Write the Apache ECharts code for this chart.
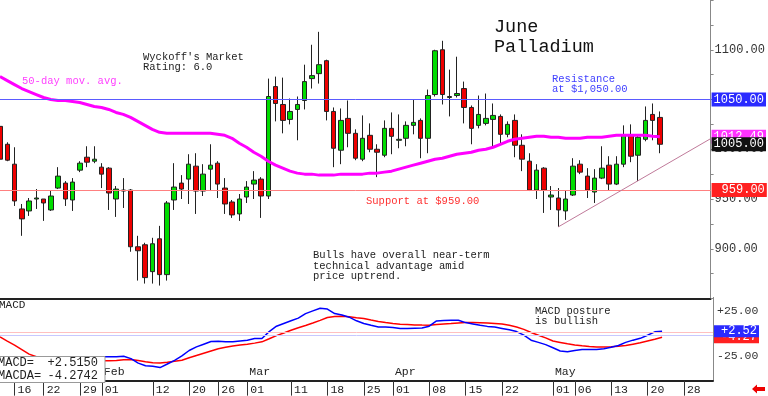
<!DOCTYPE html>
<html><head><meta charset="utf-8">
<script src="https://cdn.jsdelivr.net/npm/echarts@6/dist/echarts.min.js"></script>
<style>html,body{margin:0;padding:0;background:#fff;overflow:hidden}#c{width:768px;height:396px}</style>
</head><body><div id="c"></div>
<script>
// ---- data ----
const dates = ['01-11','01-12','01-16','01-17','01-18','01-19','01-22','01-23','01-24','01-25','01-26','01-29','01-30','01-31',
'02-01','02-02','02-05','02-06','02-07','02-08','02-09','02-12','02-13','02-14','02-15','02-16','02-20','02-21','02-22','02-23','02-26','02-27','02-28','02-29',
'03-01','03-04','03-05','03-06','03-07','03-08','03-11','03-12','03-13','03-14','03-15','03-18','03-19','03-20','03-21','03-22','03-25','03-26','03-27','03-28',
'04-01','04-02','04-03','04-04','04-05','04-08','04-09','04-10','04-11','04-12','04-15','04-16','04-17','04-18','04-19','04-22','04-23','04-24','04-25','04-26','04-29','04-30',
'05-01','05-02','05-03','05-06','05-07','05-08','05-09','05-10','05-13','05-14','05-15','05-16','05-17','05-20','05-21','05-22',
'05-23','05-24','05-28','05-29','05-30','05-31','06-03'];
const opens  = [1023,1005,985,940,938,950,950,939,961,966,949,979,992,988,982,981,950,959,959,902,904,877,910,874,949,966,970,983,958,980,986,961,947,935,952,965,970,953,1063,1045,1030,1040,1049,1071,1076,1089,1038,999,1031,1016,990,1014,1000,994,1021,1009,1011,1024,1029,1011,1055,1100,1052,1054,1061,1042,1024,1026,1030,1033,1015,1029,1004,988,959,981,952,951,938,954,985,973,957,971,984,965,985,1014,994,1010,1035,1032];
const closes = [990,989,948,930,948,951,946,953,973,950,967,986,987,990,975,956,960,958,902,898,871,905,874,946,962,960,985,958,975,984,965,945,934,950,962,969,953,1053,1046,1029,1038,1045,1068,1074,1085,1038,1001,1029,1016,991,1011,1000,997,1021,1013,1010,1024,1027,1011,1054,1099,1055,1053,1056,1042,1021,1035,1031,1034,1015,1025,1004,990,959,979,959,954,939,950,983,977,959,971,981,965,985,1014,993,1012,1029,1029,1005];
const lows   = [988,988,943,913,933,940,928,938,960,943,938,977,982,986,961,939,932,941,897,868,865,865,863,868,939,950,945,935,953,958,951,935,931,928,946,950,931,950,1028,1016,1025,1009,1040,1061,1066,1029,982,985,1002,989,988,997,972,992,995,1001,1003,1015,991,996,1053,1045,1033,1052,1026,1005,1021,1024,1003,1005,1012,992,978,958,950,936,939,922,929,953,975,951,946,970,959,964,982,987,968,1008,1009,996];
const highs  = [1025,1007,1002,945,951,960,950,959,982,968,971,988,1003,1003,986,982,963,971,960,913,906,911,923,948,986,974,995,996,985,1005,988,971,949,955,968,978,972,1071,1073,1072,1051,1053,1085,1105,1118,1090,1042,1041,1049,1020,1034,1026,1005,1029,1037,1035,1028,1050,1031,1060,1100,1109,1080,1093,1068,1044,1054,1056,1046,1035,1028,1035,1015,996,985,982,963,961,959,991,989,981,980,1003,993,993,1024,1025,1014,1043,1046,1038];
const ma50   = [1073,1069,1065,1061,1058,1055,1052,1050,1049,1049,1048,1047,1045,1043,1042,1040,1037,1035,1032,1028,1024,1020,1017,1016,1016,1016,1016,1016,1016,1016,1015,1014,1011,1006,1002,997,993,988,984,981,978,976,975,975,974,974,974,975,975,975,975,976,976,977,978,980,982,984,986,988,990,991,993,995,996,997,999,1000,1002,1005,1008,1010,1011,1012,1013,1013,1012,1012,1011,1011,1011,1012,1012,1012,1013,1014,1014,1014,1014,1014,1013,1012.49];
const macd   = [-26,-27,-28,-29,-29,-28,-27,-27,-26,-26,-26,-26,-26,-26,-26,-26,-26,-25.3,-28,-33,-36,-36.5,-38,-34,-30,-25,-19,-15,-12,-9,-8.7,-9.4,-9.4,-8.5,-7.6,-5.7,-5.7,2,8,11,14,17,22,25,28,27,22,20.5,18,14,11,9,7.2,7.2,6.5,5.5,5.4,5.8,6,8,13.9,14.3,14.5,14.7,12,10.5,9,7.8,7,5.5,4,2,-2,-7.6,-10,-12.5,-16,-19.5,-20.5,-19,-18,-18,-17.8,-17,-15.5,-13.5,-10,-7.5,-5.5,-2,1.7,2.515];
const signal = [-3.9,-8.5,-13,-18,-23,-26,-27,-28,-29,-29,-30,-30,-30,-30.5,-30.5,-30.5,-30,-29.3,-29,-30,-31.5,-32.5,-32.8,-32,-31,-29.8,-27,-24.5,-22,-19.5,-17,-15.5,-14,-13,-12,-10.8,-9.4,-6,-2.5,0.5,3.5,6.3,8.8,11.5,14.5,17.7,18.8,19.1,18.5,17.4,16.5,14.8,13.3,12.1,11,10.2,9.8,9.4,9.2,9.1,9.8,10.5,11,11.6,12,12.1,11.8,11.5,11.1,10.5,9,7.2,4.5,1,-2,-5,-8.5,-10,-11.5,-12.8,-13.8,-14.5,-15,-15,-14.8,-14.3,-13.5,-12,-10.5,-8.5,-6.5,-4.2742];
const priceLabels = [900,950,1000,1050,1100];
const macdLabels = [25,-25];
const dayTicks = ['01-16','01-22','01-29','02-01','02-12','02-20','02-26','03-01','03-11','03-18','03-25','04-01','04-08','04-15','04-22','05-01','05-06','05-13','05-20','05-28'];
const monthTicks = {'02-01':'Feb','03-01':'Mar','04-01':'Apr','05-01':'May'};
const resistance = 1050, support = 959;
const trendFrom = ['05-02', 922], trendTo = ['06-03', 1010.6];
const macdGuides = [1, -2.3];

// ---- chart ----
const mono = 'Liberation Mono';
const candleData = opens.map((o, i) => [o, closes[i], lows[i], highs[i]]);
const lastClose = closes[closes.length - 1];
const lastMA = ma50[ma50.length - 1];
const lastMacd = macd[macd.length - 1], lastSig = signal[signal.length - 1];
const signed = (v, d) => (v >= 0 ? '+' : '') + v.toFixed(d);

function refLine(xi, items, color, z) {
  return { type: 'line', xAxisIndex: xi, yAxisIndex: xi, data: [], color: color, z: z || 2,
    lineStyle: { color: color }, itemStyle: { color: color },
    markLine: { silent: true, symbol: 'none', animation: false,
      lineStyle: { color: color, width: 1, type: 'solid' }, label: { show: false }, data: items } };
}
function tagSeries(xi, v, text, bg, pad, z) {
  return { type: 'line', xAxisIndex: xi, yAxisIndex: xi, data: [], color: bg, z: z,
    markLine: { silent: true, symbol: 'none', animation: false,
      lineStyle: { color: 'rgba(0,0,0,0)', width: 0 },
      label: { show: true, position: 'end', formatter: text, color: '#fff', backgroundColor: bg,
        padding: pad, fontFamily: mono, fontSize: 12, distance: 1, lineHeight: 12 },
      data: [{ yAxis: v }] } };
}
const txt = (text, x, y, size, fill, extra) => ({ type: 'text', z: 50, style: Object.assign({ text, x, y,
  font: size + 'px "' + mono + '"', fill, textVerticalAlign: 'middle' }, extra || {}) });

const chart = echarts.init(document.getElementById('c'), null, { renderer: 'canvas' });
chart.setOption({
  animation: false,
  backgroundColor: '#fff',
  grid: [
    { left: -0.6, top: -1.5, width: 713.6, height: 300 },
    { left: -0.6, top: 297.4, width: 713.6, height: 83.25 }
  ],
  xAxis: [
    { type: 'category', gridIndex: 0, data: dates, boundaryGap: false,
      axisLine: { show: true, onZero: false, lineStyle: { color: '#222', width: 2 } },
      axisTick: { show: false }, axisLabel: { show: false }, splitLine: { show: false } },
    { type: 'category', gridIndex: 1, data: dates, boundaryGap: false, position: 'bottom',
      axisLine: { show: true, onZero: false, lineStyle: { color: '#222', width: 2 } },
      axisTick: { show: true, length: 15, interval: (i, v) => dayTicks.includes(v), lineStyle: { color: '#333' } },
      axisLabel: { interval: (i, v) => dayTicks.includes(v), formatter: v => v.slice(3), align: 'left',
        padding: [0, 0, 0, 3], margin: 3, fontFamily: mono, fontSize: 11.5, color: '#222' },
      splitLine: { show: false } },
    { type: 'category', gridIndex: 1, data: dates, boundaryGap: false, position: 'bottom',
      axisLine: { show: false, onZero: false }, axisTick: { show: false },
      axisLabel: { inside: true, interval: (i, v) => v in monthTicks, formatter: v => monthTicks[v] || '',
        align: 'left', padding: [0, 0, 0, 2], margin: 3, fontFamily: mono, fontSize: 11.5, color: '#222' },
      splitLine: { show: false } }
  ],
  yAxis: [
    { type: 'value', gridIndex: 0, position: 'right', min: 850, max: 1150, interval: 25,
      axisLine: { show: true, lineStyle: { color: '#888' } },
      axisTick: { show: true, length: 3, lineStyle: { color: '#888' } },
      axisLabel: { formatter: v => priceLabels.includes(v) ? v.toFixed(2) : '', margin: 4,
        fontFamily: mono, fontSize: 12, color: '#333' },
      splitLine: { show: false } },
    { type: 'value', gridIndex: 1, position: 'right', min: -52.5, max: 40, interval: 2.5,
      axisLine: { show: true, lineStyle: { color: '#888' } },
      axisTick: { show: false },
      axisLabel: { formatter: v => macdLabels.includes(v) ? signed(v, 2) : '', margin: 4,
        fontFamily: mono, fontSize: 11.5, color: '#333' },
      splitLine: { show: false } }
  ],
  series: [
    refLine(0, [{ yAxis: resistance }], '#5a5aff', 1),
    refLine(0, [{ yAxis: support }], '#ff8080', 1),
    refLine(0, [[{ coord: trendFrom }, { coord: trendTo }]], '#c07a9a', 1),
    { type: 'candlestick', xAxisIndex: 0, yAxisIndex: 0, data: candleData, barWidth: 5,
      itemStyle: { color: '#00dd00', color0: '#ee0000', borderColor: '#222', borderColor0: '#222', borderWidth: 1 },
      z: 2 },
    { type: 'line', xAxisIndex: 0, yAxisIndex: 0, data: ma50, showSymbol: false, symbol: 'none',
      color: '#ff00ff', lineStyle: { color: '#ff00ff', width: 3 }, z: 3 },
    tagSeries(0, resistance, resistance.toFixed(2), '#2a2aff', [1, 2, 1, 2], 10),
    tagSeries(0, lastMA, lastMA.toFixed(2), '#ff33ff', [1, 2, 1, 2], 11),
    tagSeries(0, lastClose, lastClose.toFixed(2), '#111111', [1, 2, 1, 2], 12),
    tagSeries(0, support, support.toFixed(2), '#ff2020', [1, 2, 1, 10], 10),
    refLine(1, [{ yAxis: macdGuides[0] }], '#ffc0c0', 1),
    refLine(1, [{ yAxis: macdGuides[1] }], '#c8c8ff', 1),
    { type: 'line', xAxisIndex: 1, yAxisIndex: 1, data: signal, showSymbol: false, symbol: 'none',
      color: '#ff0000', lineStyle: { color: '#ff0000', width: 1.5 }, z: 3 },
    { type: 'line', xAxisIndex: 1, yAxisIndex: 1, data: macd, showSymbol: false, symbol: 'none',
      color: '#0000ff', lineStyle: { color: '#0000ff', width: 1.5 }, z: 4 },
    tagSeries(1, lastSig, signed(lastSig, 2), '#ff2020', [0, 2, 0, 7], 10),
    tagSeries(1, lastMacd, signed(lastMacd, 2), '#2a2aff', [0, 2, 0, 7], 11)
  ],
  graphic: [
    txt("Wyckoff's Market", 143, 57, 10.5, '#222'),
    txt('Rating: 6.0', 143, 67.5, 10.5, '#222'),
    txt('50-day mov. avg.', 22, 81, 10.5, '#ff40ff'),
    txt('June', 494, 27, 18.5, '#111'),
    txt('Palladium', 494, 47, 18.5, '#111'),
    txt('Resistance', 552, 79, 10.5, '#4040ff'),
    txt('at $1,050.00', 552, 89.5, 10.5, '#4040ff'),
    txt('Support at $959.00', 366, 201, 10.5, '#ff3030'),
    txt('Bulls have overall near-term', 313, 255, 10.5, '#222'),
    txt('technical advantage amid', 313, 265.8, 10.5, '#222'),
    txt('price uptrend.', 313, 276.5, 10.5, '#222'),
    txt('MACD posture', 535, 311, 10.5, '#222'),
    txt('is bullish', 535, 321.7, 10.5, '#222'),
    txt('MACD', -1, 305, 11, '#222'),
    { type: 'rect', z: 60, shape: { x: -3, y: 356.5, width: 108, height: 26 },
      style: { fill: '#fff', stroke: '#999', lineWidth: 1 } },
    Object.assign(txt('MACD=', -2, 363, 12, '#222'), { z: 61 }),
    Object.assign(txt('MACDA=', -2, 375.5, 12, '#222'), { z: 61 }),
    Object.assign(txt(signed(lastMacd, 4), 98, 363, 12, '#222', { textAlign: 'right' }), { z: 61 }),
    Object.assign(txt(signed(lastSig, 4), 98, 375.5, 12, '#222', { textAlign: 'right' }), { z: 61 }),
    { type: 'polygon', z: 61, shape: { points: [[752, 389], [757, 384.5], [757, 387], [765, 387], [765, 391], [757, 391], [757, 393.5]] },
      style: { fill: '#ee0000' } }
  ]
});
</script>
</body></html>
